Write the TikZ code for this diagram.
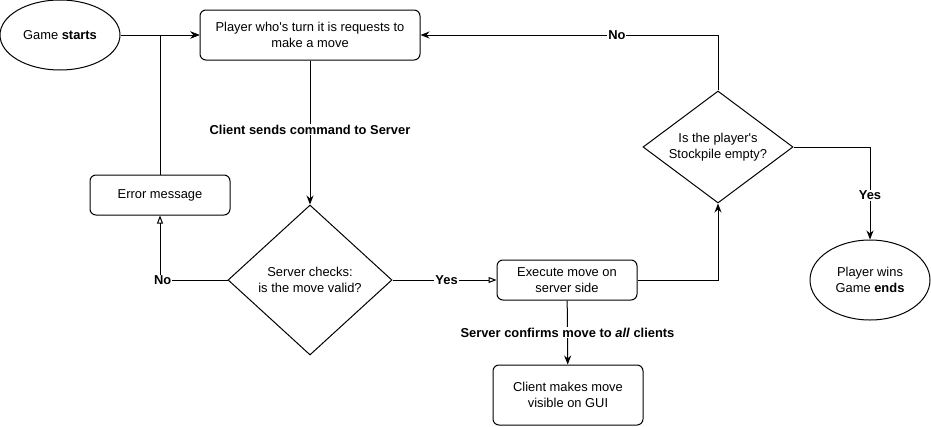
\documentclass[tikz,border=0pt]{standalone}
\usepackage{fontspec}
\setmainfont{Liberation Sans}
\usetikzlibrary{shapes.geometric,arrows.meta}

\begin{document}
\begin{tikzpicture}[x=1pt, y=-1pt, line width=1pt,
  every node/.style={font=\fontsize{12.9}{15.5}\selectfont, align=center},
  box/.style={draw, rounded corners=6pt, inner sep=0pt},
  terminal/.style={draw, ellipse, inner sep=0pt},
  decision/.style={draw, diamond, inner sep=0pt},
  lbl/.style={fill=white, inner sep=1pt, font=\fontsize{12.9}{15.5}\selectfont\bfseries},
  arr/.style={-{Stealth[length=9pt,width=7pt]}},
  oarr/.style={-{Triangle[open,length=8pt,width=6pt]}}]
  \useasboundingbox (0,0) rectangle (931,426);
  \node[terminal, minimum width=120pt, minimum height=70pt] (start) at (60,35) {Game \textbf{starts}};
  \node[box, minimum width=220pt, minimum height=50pt] (request) at (310,35) {Player who\textquotesingle s turn it is requests to\\make a move};
  \node[decision, aspect=1.09, minimum width=164pt, minimum height=150pt] (valid) at (310,280) {Server checks:\\is the move valid?};
  \node[box, minimum width=140pt, minimum height=40pt] (error) at (160,195) {Error message};
  \node[box, minimum width=140pt, minimum height=40pt] (execute) at (567,280) {Execute move on\\server side};
  \node[box, minimum width=150pt, minimum height=60pt] (visible) at (568,395) {Client makes move\\visible on GUI};
  \node[decision, aspect=1.34, minimum width=150pt, minimum height=112pt] (stockpile) at (718,147) {Is the player\textquotesingle s\\Stockpile empty?};
  \node[terminal, minimum width=120pt, minimum height=80pt] (wins) at (870,280) {Player wins\\Game \textbf{ends}};

  \draw[arr] (start) -- (request);
  \draw[arr] (error) |- (request);
  \draw[arr] (request) -- node[lbl, pos=0.48] {Client sends command to Server} (valid);
  \draw[oarr] (valid) -| node[lbl, pos=0.48] {No} (error);
  \draw[oarr] (valid) -- node[lbl, pos=0.52] {Yes} (execute);
  \draw[arr] (execute) -- node[lbl] {Server confirms move to \textit{all} clients} (visible);
  \draw[arr] (execute) -| (stockpile);
  \draw[arr] (stockpile) |- node[lbl, pos=0.67] {No} (request);
  \draw[arr] (stockpile) -| node[lbl, pos=0.76] {Yes} (wins);
\end{tikzpicture}
\end{document}
